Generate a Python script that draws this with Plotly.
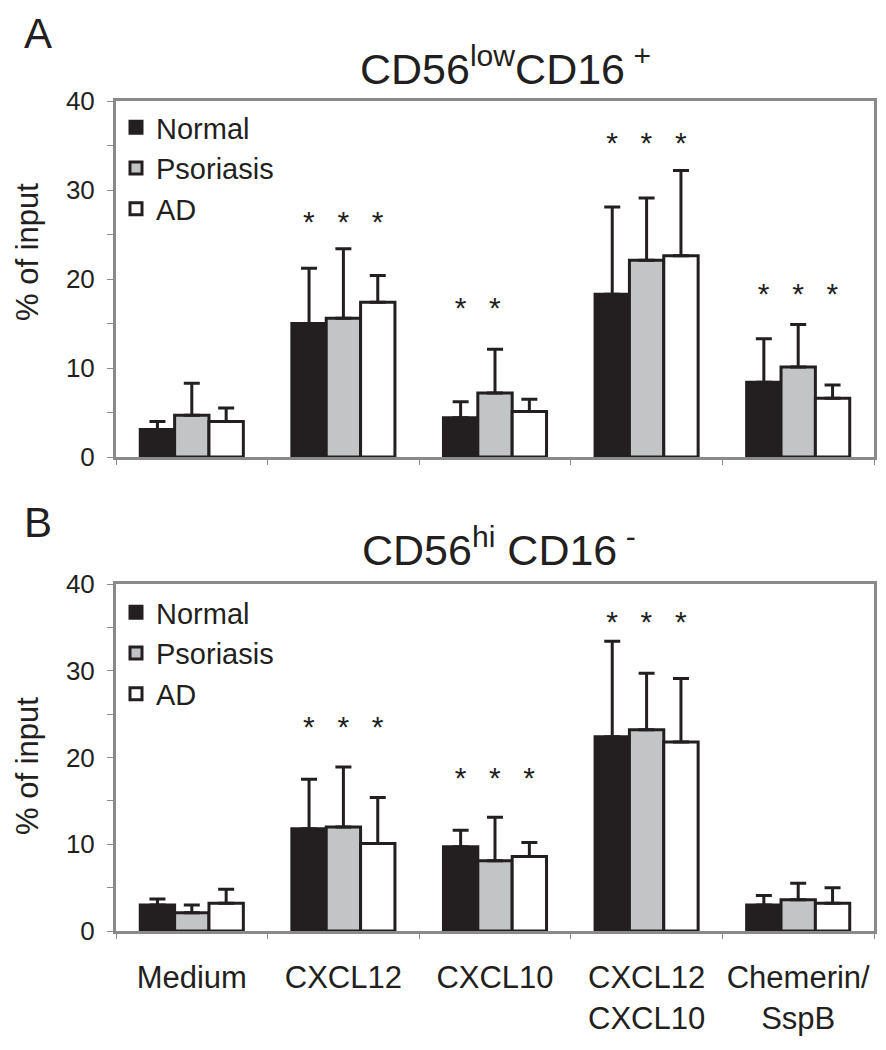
import plotly.graph_objects as go

categories = ["Medium", "CXCL12", "CXCL10", "CXCL12<br>CXCL10", "Chemerin/<br>SspB"]
series = ["Normal", "Psoriasis", "AD"]

# Panel A: CD56low CD16+  (% of input, mean and upper SD)
a_normal = [3.1, 15.0, 4.4, 18.3, 8.4]
a_normal_sd = [0.9, 6.2, 1.8, 9.8, 4.9]
a_psoriasis = [4.7, 15.6, 7.2, 22.1, 10.1]
a_psoriasis_sd = [3.6, 7.8, 4.9, 7.0, 4.8]
a_ad = [4.0, 17.4, 5.1, 22.6, 6.6]
a_ad_sd = [1.5, 3.0, 1.4, 9.6, 1.5]

# Panel B: CD56hi CD16-
b_normal = [3.0, 11.8, 9.7, 22.4, 3.0]
b_normal_sd = [0.7, 5.7, 1.9, 11.0, 1.1]
b_psoriasis = [2.1, 12.0, 8.1, 23.2, 3.6]
b_psoriasis_sd = [0.9, 6.9, 5.0, 6.5, 1.9]
b_ad = [3.2, 10.1, 8.6, 21.8, 3.2]
b_ad_sd = [1.6, 5.3, 1.6, 7.3, 1.8]

# significance markers: level of the "*" (None = no star)
a_star_normal = [None, 24.3, 14.6, 33.1, 16.2]
a_star_psoriasis = [None, 24.3, 14.6, 33.1, 16.2]
a_star_ad = [None, 24.3, None, 33.1, 16.2]
b_star_normal = [None, 21.3, 15.4, 33.4, None]
b_star_psoriasis = [None, 21.3, 15.4, 33.4, None]
b_star_ad = [None, 21.3, 15.4, 33.4, None]

y_tickvals = [0, 10, 20, 30, 40]
y_ticktext = ["0", "10", "20", "30", "40"]

title_a = "CD56<sup>low</sup>CD16<sup> +</sup>"
title_b = "CD56<sup>hi</sup> CD16<sup> -</sup>"

FONT = "Liberation Sans, Arial, Helvetica, sans-serif"
INK = "#231f20"
fills = ["#231f20", "#c3c4c6", "#ffffff"]

# the page body has an 8px margin: the figure is sized to fit the window
PAGE_W, PAGE_H, BODY = 886, 1050, 8
W, H = PAGE_W - BODY, PAGE_H - BODY


def px(x):
    return (x - BODY) / W


def py(y):
    return 1 - (y - BODY) / H


panels = [
    dict(xa="x", ya="y", leg="legend",
         vals=[a_normal, a_psoriasis, a_ad],
         sds=[a_normal_sd, a_psoriasis_sd, a_ad_sd],
         stars=[a_star_normal, a_star_psoriasis, a_star_ad]),
    dict(xa="x2", ya="y2", leg="legend2",
         vals=[b_normal, b_psoriasis, b_ad],
         sds=[b_normal_sd, b_psoriasis_sd, b_ad_sd],
         stars=[b_star_normal, b_star_psoriasis, b_star_ad]),
]

fig = go.Figure()
for p in panels:
    for name, v, sd, col in zip(series, p["vals"], p["sds"], fills):
        fig.add_trace(go.Bar(
            x=categories, y=v, name=name, offsetgroup=name,
            xaxis=p["xa"], yaxis=p["ya"], legend=p["leg"],
            marker=dict(color=col, line=dict(color=INK, width=3)),
            error_y=dict(type="data", array=sd, arrayminus=[0] * len(sd),
                         symmetric=False, color=INK, thickness=3, width=8),
            hoverinfo="skip",
        ))
    for name, st in zip(series, p["stars"]):
        fig.add_trace(go.Bar(
            x=categories, y=st, offsetgroup=name, showlegend=False,
            xaxis=p["xa"], yaxis=p["ya"],
            marker=dict(color="rgba(0,0,0,0)", line=dict(width=0)),
            text="*", textposition="outside", cliponaxis=False,
            textfont=dict(family=FONT, size=30, color=INK),
            hoverinfo="skip",
        ))

top_dom = [py(457), py(101)]
bot_dom = [py(931), py(584)]

axis_common = dict(showline=True, linecolor="#8a8a8a", linewidth=3, mirror=True,
                   showgrid=False, zeroline=False, automargin=False)
xcommon = dict(axis_common, type="category", range=[-0.5, 4.5],
               tickson="boundaries", ticks="outside", ticklen=5, tickwidth=1,
               tickcolor="#8a8a8a", tickangle=0)
ycommon = dict(axis_common, range=[0, 40], tickvals=y_tickvals, ticktext=y_ticktext,
               ticks="outside", ticklen=6, tickwidth=1, tickcolor="#8a8a8a",
               minor=dict(dtick=5, tick0=0, ticks="outside", ticklen=6,
                          tickwidth=1, tickcolor="#8a8a8a", showgrid=False),
               tickfont=dict(family=FONT, size=26, color=INK), ticklabelstandoff=7)

fig.update_layout(
    template="none",
    width=W, height=H, margin=dict(l=0, r=0, t=0, b=0, autoexpand=False),
    paper_bgcolor="white", plot_bgcolor="white",
    barmode="group", bargap=0.32, bargroupgap=0,
    font=dict(family=FONT, color=INK),
    showlegend=True,
    xaxis=dict(xcommon, domain=[px(116), px(874)], anchor="y", showticklabels=False),
    yaxis=dict(ycommon, domain=top_dom, anchor="x"),
    xaxis2=dict(xcommon, domain=[px(116), px(874)], anchor="y2", showticklabels=True,
                tickfont=dict(family=FONT, size=31, color=INK), ticklabelstandoff=17),
    yaxis2=dict(ycommon, domain=bot_dom, anchor="x2"),
    legend=dict(x=px(116), y=py(102), xanchor="left", yanchor="top",
                bgcolor="rgba(0,0,0,0)", font=dict(family=FONT, size=29, color=INK),
                tracegroupgap=0, itemclick=False),
    legend2=dict(x=px(116), y=py(587), xanchor="left", yanchor="top",
                 bgcolor="rgba(0,0,0,0)", font=dict(family=FONT, size=29, color=INK),
                 tracegroupgap=0, itemclick=False),
    annotations=[
        dict(text="A", x=px(22), y=py(BODY), xref="paper", yref="paper",
             xanchor="left", yanchor="top", showarrow=False,
             font=dict(family=FONT, size=42, color=INK)),
        dict(text="B", x=px(22), y=py(497), xref="paper", yref="paper",
             xanchor="left", yanchor="top", showarrow=False,
             font=dict(family=FONT, size=42, color=INK)),
        dict(text=title_a, x=px(505), y=py(66), xref="paper", yref="paper",
             xanchor="center", yanchor="middle", showarrow=False,
             font=dict(family=FONT, size=43, color=INK)),
        dict(text=title_b, x=px(499), y=py(547), xref="paper", yref="paper",
             xanchor="center", yanchor="middle", showarrow=False,
             font=dict(family=FONT, size=43, color=INK)),
        dict(text="% of input", x=px(27), y=py(252), xref="paper", yref="paper",
             xanchor="center", yanchor="middle", textangle=-90, showarrow=False,
             font=dict(family=FONT, size=31, color=INK)),
        dict(text="% of input", x=px(27), y=py(766), xref="paper", yref="paper",
             xanchor="center", yanchor="middle", textangle=-90, showarrow=False,
             font=dict(family=FONT, size=31, color=INK)),
    ],
)

fig.write_html("out.html")
